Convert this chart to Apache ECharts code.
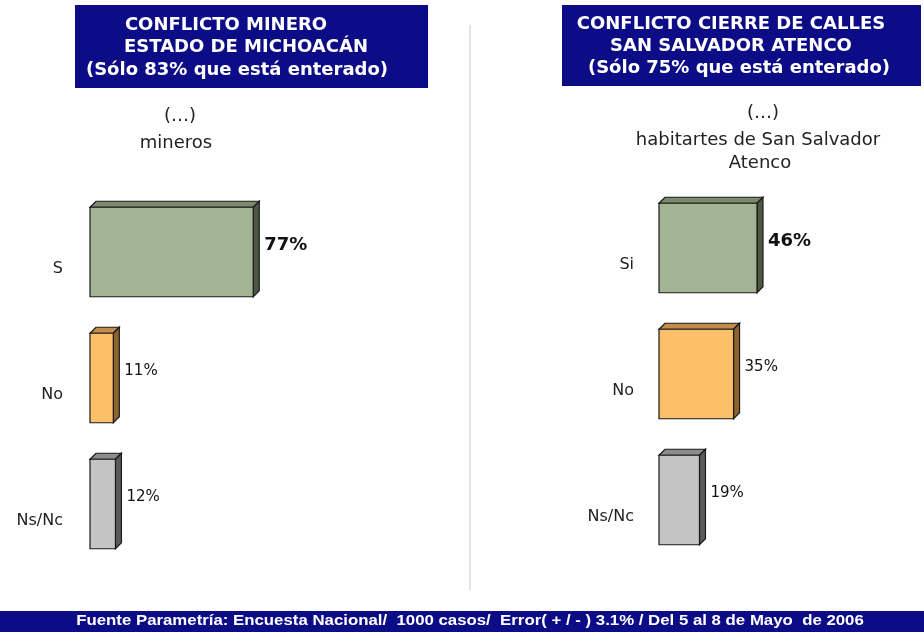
<!DOCTYPE html>
<html>
<head>
<meta charset="utf-8">
<script src="https://cdn.jsdelivr.net/npm/echarts@6/dist/echarts.min.js"></script>
<style>
  html, body { margin: 0; padding: 0; background: #fff; }
  #chart { width: 924px; height: 632px; }
</style>
</head>
<body>
<div id="chart"></div>
<script>
  // Data
  const categoriesMinero = ['S', 'No', 'Ns/Nc'];
  const valuesMinero = [77, 11, 12];
  const categoriesAtenco = ['Si', 'No', 'Ns/Nc'];
  const valuesAtenco = [46, 35, 19];

  // face / top / side colours for each answer
  const palette = [
    { face: '#a2b494', top: '#7b8a6c', side: '#4d5a42' },
    { face: '#fdbf69', top: '#c38c4e', side: '#8d6430' },
    { face: '#c4c4c4', top: '#8c8c8c', side: '#5a5a5a' }
  ];

  const NAVY = '#0c0c86';
  const DEPTH = 6;

  function renderBar3d(params, api) {
    const idx = params.dataIndex;
    const val = api.value(0);
    const cat = api.value(1);
    const start = api.coord([0, cat]);
    const end = api.coord([val, cat]);
    const h = api.size([0, 1])[1] * 0.71;
    const x0 = start[0], x1 = end[0];
    const y0 = start[1] - h / 2, y1 = start[1] + h / 2;
    const c = palette[idx];
    const line = { stroke: '#1a1a1a', lineWidth: 1.2 };
    const bold = idx === 0;
    return {
      type: 'group',
      children: [
        { type: 'polygon', shape: { points: [[x0, y0], [x0 + DEPTH, y0 - DEPTH], [x1 + DEPTH, y0 - DEPTH], [x1, y0]] },
          style: Object.assign({ fill: c.top }, line) },
        { type: 'polygon', shape: { points: [[x1, y0], [x1 + DEPTH, y0 - DEPTH], [x1 + DEPTH, y1 - DEPTH], [x1, y1]] },
          style: Object.assign({ fill: c.side }, line) },
        { type: 'rect', shape: { x: x0, y: y0, width: x1 - x0, height: y1 - y0 },
          style: Object.assign({ fill: c.face }, line) },
        { type: 'text', x: x1 + DEPTH + 5, y: start[1] - 7,
          style: { text: val + '%', fill: '#111', align: 'left', verticalAlign: 'middle',
                   letterSpacing: bold ? 3 : 0.5,
                   font: (bold ? 'bold 18px' : '15px') + ' "DejaVu Sans", sans-serif' } }
      ]
    };
  }

  function catAxis(gridIndex, data, margin) {
    return {
      type: 'category', gridIndex, data, inverse: true,
      axisLine: { show: false }, axisTick: { show: false },
      axisLabel: { margin, align: 'right', verticalAlign: 'top', lineHeight: 34, color: '#222',
                   fontFamily: '"DejaVu Sans", sans-serif', fontSize: 16 }
    };
  }

  function valAxis(gridIndex) {
    return { type: 'value', gridIndex, min: 0, max: 100, show: false, splitLine: { show: false } };
  }

  function titleText(x, y, text) {
    return { type: 'text', x, y, style: { text, fill: '#fff', align: 'center', verticalAlign: 'middle',
             font: 'bold 18px "DejaVu Sans", sans-serif' } };
  }

  function plainText(x, y, text) {
    return { type: 'text', x, y, style: { text, fill: '#222', align: 'center', verticalAlign: 'middle',
             letterSpacing: 0.5, font: '18px "DejaVu Sans", sans-serif' } };
  }

  const chart = echarts.init(document.getElementById('chart'));
  chart.setOption({
    backgroundColor: '#fff',
    animation: false,
    grid: [
      { left: 90, top: 189, width: 212, height: 378 },
      { left: 659, top: 185, width: 213, height: 378 }
    ],
    xAxis: [valAxis(0), valAxis(1)],
    yAxis: [catAxis(0, categoriesMinero, 27), catAxis(1, categoriesAtenco, 25)],
    series: [
      { type: 'custom', xAxisIndex: 0, yAxisIndex: 0, renderItem: renderBar3d,
        encode: { x: 0, y: 1 }, data: valuesMinero.map((v, i) => [v, i]) },
      { type: 'custom', xAxisIndex: 1, yAxisIndex: 1, renderItem: renderBar3d,
        encode: { x: 0, y: 1 }, data: valuesAtenco.map((v, i) => [v, i]) }
    ],
    graphic: [
      // title boxes
      { type: 'rect', shape: { x: 75, y: 5, width: 353, height: 83 }, style: { fill: NAVY } },
      { type: 'rect', shape: { x: 562, y: 5, width: 359, height: 81 }, style: { fill: NAVY } },
      titleText(226, 25, 'CONFLICTO MINERO'),
      titleText(246, 47, 'ESTADO DE MICHOACÁN'),
      titleText(237, 70, '(Sólo 83% que está enterado)'),
      titleText(731, 24, 'CONFLICTO CIERRE DE CALLES'),
      titleText(731, 46, 'SAN SALVADOR ATENCO'),
      titleText(739, 68, '(Sólo 75% que está enterado)'),
      // subtitles
      plainText(180, 116, '(…)'),
      plainText(176, 143, 'mineros'),
      plainText(763, 113, '(…)'),
      plainText(758, 140, 'habitartes de San Salvador'),
      plainText(760, 163, 'Atenco'),
      // separator
      { type: 'line', shape: { x1: 470, y1: 25, x2: 470, y2: 590 }, style: { stroke: '#dcdcdc', lineWidth: 1.5 } },
      // footer
      { type: 'rect', shape: { x: 0, y: 611, width: 924, height: 21 }, style: { fill: NAVY } },
      { type: 'text', x: 470, y: 621, scaleX: 1.12, originX: 0, originY: 0, style: {
          text: 'Fuente Parametría: Encuesta Nacional/  1000 casos/  Error( + / - ) 3.1% / Del 5 al 8 de Mayo  de 2006',
          fill: '#fff', align: 'center', verticalAlign: 'middle',
          font: 'bold 15px "Liberation Sans", sans-serif' } }
    ]
  });
</script>
</body>
</html>
